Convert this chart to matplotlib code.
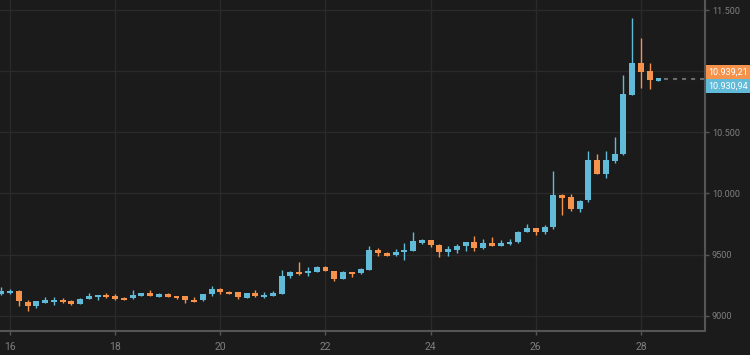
import numpy as np
import pandas as pd
import matplotlib
matplotlib.use('Agg')
import matplotlib.pyplot as plt
import matplotlib.dates as mdates
from matplotlib.ticker import FixedLocator, FuncFormatter

# 4h candles, 2020-07-15 20:00 -> 2020-07-28 08:00
opens = [9177, 9185, 9204, 9114, 9076, 9104, 9112, 9131, 9117, 9098,
         9139, 9150, 9169, 9161, 9147, 9142, 9163, 9182, 9155, 9174,
         9161, 9161, 9131, 9125, 9174, 9218, 9196, 9191, 9147, 9182,
         9150, 9163, 9179, 9326, 9358, 9347, 9361, 9402, 9364, 9304,
         9358, 9347, 9374, 9537, 9510, 9494, 9518, 9532, 9597, 9616,
         9575, 9524, 9537, 9570, 9600, 9551, 9591, 9572, 9586, 9600,
         9686, 9714, 9686, 9722, 9985, 9971, 9876, 9944, 10270, 10161,
         10267, 10319, 10807, 11064, 10998, 10922]
highs = [9234, 9218, 9208, 9125, 9120, 9155, 9150, 9142, 9125, 9141,
         9188, 9172, 9185, 9174, 9150, 9212, 9185, 9212, 9188, 9188,
         9163, 9163, 9150, 9177, 9242, 9229, 9199, 9193, 9188, 9212,
         9193, 9199, 9370, 9364, 9442, 9399, 9404, 9404, 9366, 9364,
         9361, 9393, 9572, 9551, 9521, 9543, 9591, 9681, 9624, 9619,
         9586, 9570, 9586, 9602, 9651, 9627, 9640, 9619, 9627, 9690,
         9754, 9717, 9738, 10183, 9999, 9993, 9944, 10343, 10324, 10343,
         10458, 10966, 11432, 11268, 11069, 10944]
lows = [9172, 9180, 9082, 9035, 9063, 9100, 9084, 9104, 9087, 9096,
        9136, 9131, 9147, 9128, 9125, 9139, 9160, 9158, 9152, 9152,
        9139, 9106, 9109, 9122, 9158, 9177, 9174, 9133, 9144, 9153,
        9147, 9160, 9176, 9307, 9336, 9328, 9358, 9366, 9285, 9301,
        9320, 9345, 9370, 9491, 9488, 9491, 9456, 9529, 9586, 9559,
        9478, 9491, 9515, 9532, 9532, 9545, 9570, 9570, 9575, 9591,
        9683, 9662, 9670, 9711, 9825, 9855, 9847, 9933, 10158, 10129,
        10246, 10316, 10805, 10859, 10851, 10920]
closes = [9199, 9204, 9120, 9076, 9117, 9125, 9131, 9112, 9098, 9139,
          9158, 9169, 9150, 9139, 9128, 9169, 9182, 9161, 9174, 9155,
          9142, 9131, 9112, 9174, 9218, 9191, 9177, 9153, 9185, 9163,
          9172, 9182, 9326, 9361, 9339, 9369, 9402, 9369, 9304, 9361,
          9339, 9380, 9537, 9510, 9491, 9518, 9537, 9610, 9616, 9575,
          9524, 9545, 9570, 9600, 9551, 9597, 9572, 9591, 9605, 9686,
          9714, 9686, 9727, 9985, 9966, 9874, 9942, 10270, 10161, 10270,
          10325, 10810, 11064, 10993, 10927, 10941]
times = pd.date_range('2020-07-15 20:00', periods=len(opens), freq='4h')

last_ask = 10939.21
last_bid = 10930.94
flat_price = 10935
price_ticks = [9000, 9500, 10000, 10500, 11000, 11500]
day_ticks = pd.date_range('2020-07-16', '2020-07-28', freq='2D')

BG = '#1b1b1b'
UP = '#62bad9'
DOWN = '#f5934d'
GRID = '#2a2a2a'
AXIS = '#555555'
TEXT = '#7f7f7f'

plt.rcParams['font.family'] = ['Roboto', 'DejaVu Sans']
plt.rcParams['lines.scale_dashes'] = False

fig = plt.figure(figsize=(7.5, 3.55), dpi=100, facecolor=BG)
ax = fig.add_axes([0, 24 / 355, 705 / 750, 331 / 355])
ax.set_facecolor(BG)

x = mdates.date2num(times)
step = 4 / 24
o = np.array(opens, dtype=float)
h = np.array(highs, dtype=float)
l = np.array(lows, dtype=float)
c = np.array(closes, dtype=float)
colors = np.where(c >= o, UP, DOWN)

# wicks and bodies
ax.vlines(x, l, h, colors=colors, linewidth=1, zorder=2)
ax.bar(x, np.abs(c - o), bottom=np.minimum(o, c), width=step * 0.68,
       color=colors, linewidth=0, zorder=3)

# flat tail after the last candle
x0 = mdates.date2num(pd.Timestamp('2020-07-16'))
xmax = x0 + 695 / 52.58
ax.plot([x[-1] + step * 0.6, xmax], [flat_price, flat_price], color='#6c6c6c',
        linewidth=1.5, dashes=(2.9, 3.6), zorder=2)

ax.set_xlim(x0 - 10 / 52.58, xmax)
ax.set_ylim(8875, 11582)

ax.xaxis.set_major_locator(FixedLocator(mdates.date2num(day_ticks)))
ax.xaxis.set_major_formatter(mdates.DateFormatter('%d'))
ax.yaxis.set_major_locator(FixedLocator(price_ticks))


def fmt_price(v, pos=None):
    v = int(round(v))
    if v == 11000:
        return ''  # hidden behind the price tags
    return f'{v:,}'.replace(',', '.') if v >= 10000 else str(v)


ax.yaxis.set_major_formatter(FuncFormatter(fmt_price))
ax.yaxis.tick_right()

ax.grid(True, color=GRID, linewidth=1, zorder=0)
ax.set_axisbelow(True)

for side in ['top', 'left']:
    ax.spines[side].set_visible(False)
for side in ['right', 'bottom']:
    ax.spines[side].set_color(AXIS)
    ax.spines[side].set_linewidth(1.5)

ax.tick_params(axis='x', length=3, width=1, color=AXIS, labelcolor=TEXT,
               labelsize=7.5, pad=5)
ax.tick_params(axis='y', length=3, width=1, color=AXIS, labelcolor=TEXT,
               labelsize=6.6, pad=2)

# last price tags
for price, dy, col in [(last_ask, 4.8, DOWN), (last_bid, -4.6, UP)]:
    s = f'{price:,.2f}'.replace(',', ' ').replace('.', ',').replace(' ', '.')
    ax.annotate(s, xy=(1, price), xycoords=('axes fraction', 'data'),
                xytext=(2.4, dy), textcoords='offset points', ha='left',
                va='center', fontsize=6.5, color='white', zorder=10,
                annotation_clip=False,
                bbox=dict(boxstyle='square,pad=0.25', fc=col, ec='none'))

fig.savefig('out.png', dpi=100, facecolor=BG)
